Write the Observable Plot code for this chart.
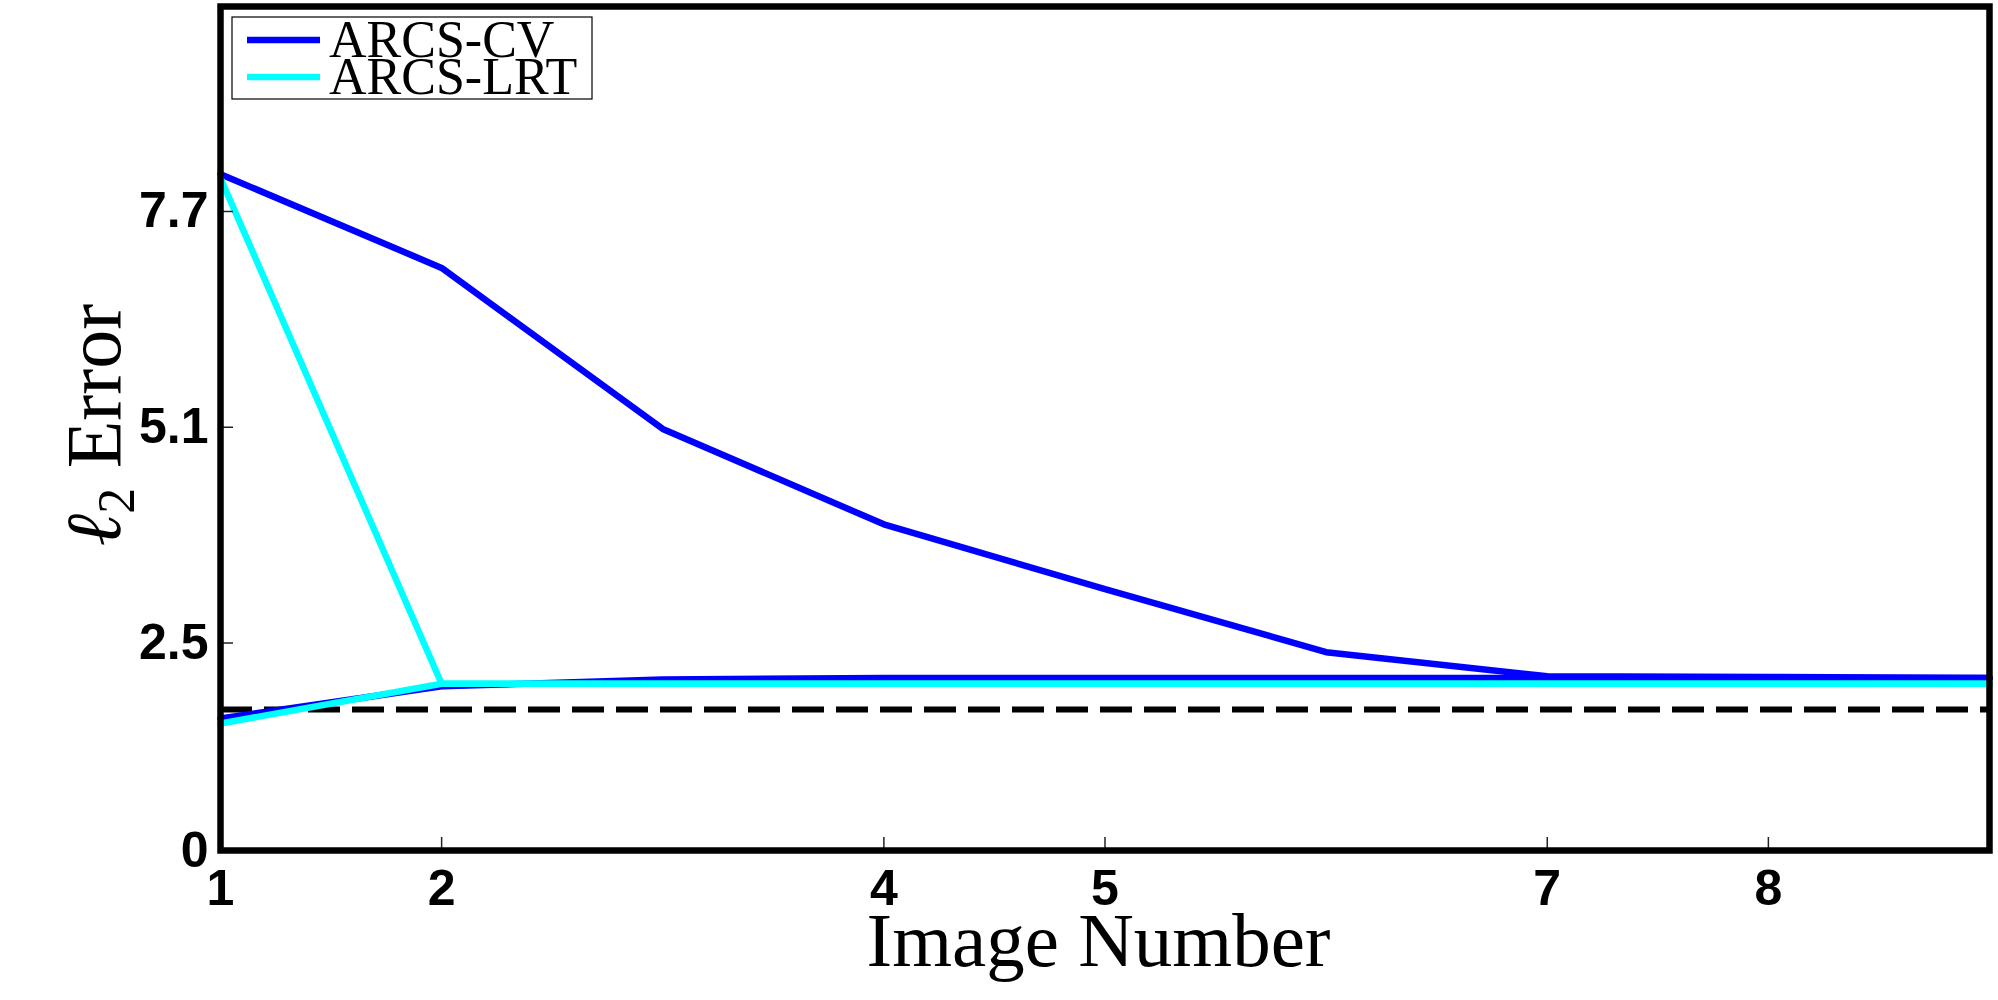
<!DOCTYPE html>
<html><head><meta charset="utf-8">
<script src="https://cdn.jsdelivr.net/npm/d3@7"></script>
<script src="https://cdn.jsdelivr.net/npm/@observablehq/plot@0.6"></script>
<style>
body{margin:0;background:#fff}
#chart{width:1998px;height:1000px}
</style>
</head><body><div id="chart"></div>
<script>
// ---- data ----
const imageNumbers = [1, 2, 3, 4, 5, 6, 7, 8, 9];
const cvRunA  = [8.15, 7.02, 5.08, 3.93, 3.15, 2.39, 2.10, 2.09, 2.08];
const cvRunB  = [1.59, 1.98, 2.06, 2.08, 2.08, 2.08, 2.08, 2.08, 2.08];
const lrtRunA = [8.10, 2.01, 2.01, 2.01, 2.01, 2.01, 2.01, 2.01, 2.01];
const lrtRunB = [1.53, 2.01, 2.01, 2.01, 2.01, 2.01, 2.01, 2.01, 2.01];
const oracleError = [1.70];
const seriesNames = ["ARCS-CV", "ARCS-LRT"];
const seriesColors = ["#0000ff", "#00ffff"];
const xTicks = [1, 2, 4, 5, 7, 8];
const yTicks = [0, 2.5, 5.1, 7.7];
const xLabel = "Image Number";
const yLabelSymbol = "ℓ", yLabelSub = "2", yLabelText = " Error";

// table for the library
const runs = [
  {method: seriesNames[0], run: "cv-a", values: cvRunA},
  {method: seriesNames[0], run: "cv-b", values: cvRunB},
  {method: seriesNames[1], run: "lrt-a", values: lrtRunA},
  {method: seriesNames[1], run: "lrt-b", values: lrtRunB}
];
const rows = runs.flatMap(r => r.values.map((v, i) => ({x: imageNumbers[i], y: v, method: r.method, run: r.run})));

const tickFont = {fontSize: 50, fontWeight: "bold", fontFamily: "Liberation Sans, Arial, sans-serif"};

const plot = Plot.plot({
  width: 1998,
  height: 1000,
  marginLeft: 220,
  marginRight: 9,
  marginTop: 6,
  marginBottom: 150,
  style: {background: "white", color: "black", overflow: "visible"},
  x: {domain: [1, 9]},
  y: {domain: [0, 10.17]},
  color: {domain: seriesNames, range: seriesColors},
  marks: [
    Plot.ruleY(oracleError, {stroke: "black", strokeWidth: 6, strokeDasharray: "32 12"}),
    Plot.line(rows, {x: "x", y: "y", z: "run", stroke: "method", strokeWidth: 6.5, strokeLinejoin: "miter"}),
    Plot.axisX({ticks: xTicks, tickSize: -13, tickPadding: 32, label: null, stroke: "#222", strokeWidth: 1.5, ...tickFont}),
    Plot.axisY({ticks: yTicks, tickSize: -13, tickPadding: 25, label: null, tickFormat: d => String(d), stroke: "#222", strokeWidth: 1.5, ...tickFont}),
    Plot.frame({stroke: "black", strokeWidth: 6.5})
  ]
});
document.getElementById("chart").appendChild(plot);

// ---- titles and legend (text added to the Plot SVG) ----
const svg = d3.select(plot);
const [fx0, fx1] = plot.scale("x").range;
const [fy0, fy1] = plot.scale("y").range; // bottom, top
const color = plot.scale("color");

svg.append("text")
  .attr("x", (fx0 + fx1) / 2 - 6)
  .attr("y", fy0 + 116)
  .attr("text-anchor", "middle")
  .attr("font-family", "Liberation Serif, Times New Roman, serif")
  .attr("font-size", 77)
  .attr("fill", "black")
  .text(xLabel);

const yt = svg.append("text")
  .attr("transform", `translate(${fx0 - 100},${(fy0 + fy1) / 2 - 3}) rotate(-90)`)
  .attr("text-anchor", "middle")
  .attr("font-family", "Liberation Serif, Times New Roman, serif")
  .attr("font-size", 78)
  .attr("fill", "black");
yt.append("tspan").attr("font-style", "italic").text(yLabelSymbol);
yt.append("tspan").attr("font-size", 52).attr("dy", 14).text(yLabelSub);
yt.append("tspan").attr("dy", -14).text(yLabelText);

const lg = svg.append("g").attr("transform", `translate(${fx0 + 12},${fy1 + 11})`);
lg.append("rect").attr("x", 0).attr("y", 0).attr("width", 360).attr("height", 82)
  .attr("fill", "white").attr("stroke", "black").attr("stroke-width", 1.2);
seriesNames.forEach((name, i) => {
  const cy = 23 + i * 37;
  lg.append("line").attr("x1", 15).attr("x2", 88).attr("y1", cy).attr("y2", cy)
    .attr("stroke", color.apply(name)).attr("stroke-width", 6.5);
  lg.append("text").attr("x", 97).attr("y", cy + 17)
    .attr("text-anchor", "start")
    .attr("font-family", "Liberation Serif, Times New Roman, serif")
    .attr("font-size", 52).attr("fill", "black").text(name);
});
</script>
</body></html>
